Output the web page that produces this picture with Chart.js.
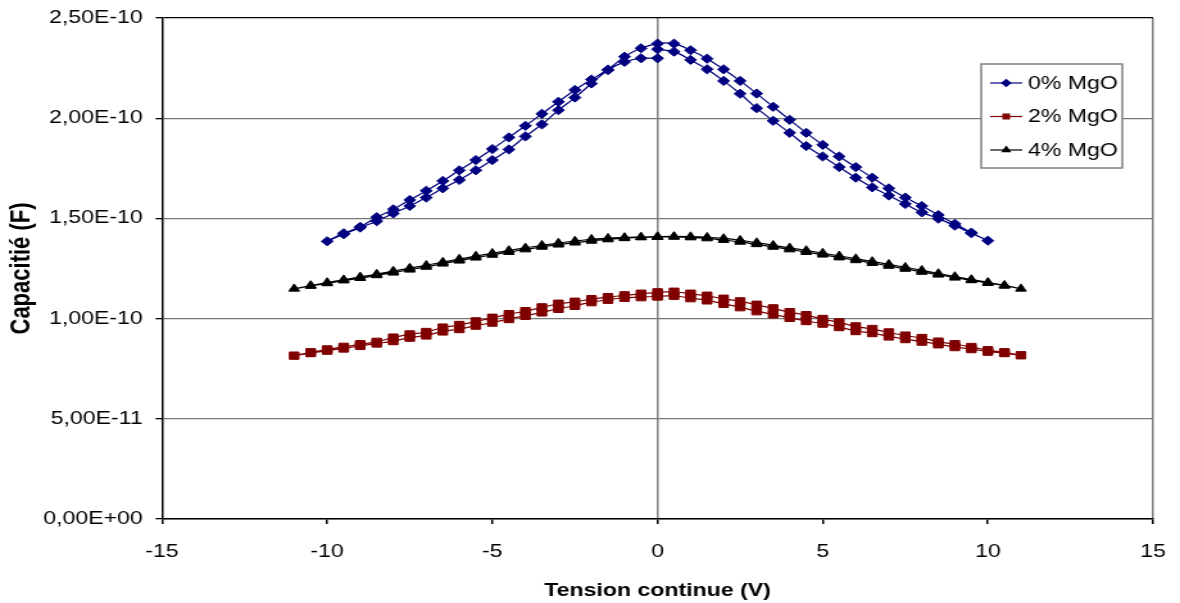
<!DOCTYPE html>
<html>
<head>
<meta charset="utf-8">
<title>Capacité en fonction de la tension</title>
<script src="https://cdn.jsdelivr.net/npm/chart.js@4.4.0/dist/chart.umd.min.js"></script>
<style>
  html, body { margin: 0; padding: 0; background: #fff; overflow: hidden; }
</style>
</head>
<body>
<!-- bitmap is drawn at 920 wide and shown at 1180 wide, like the original sheet export -->
<canvas id="cv" width="920" height="603" style="display:block;width:1180px;height:603px"></canvas>
<script>
// DC bias sweep: 0 -> +Vmax -> -Vmax -> 0 (volts)
const sweep10 = [
    0, 0.5, 1, 1.5, 2, 2.5, 3, 3.5, 4, 4.5, 5, 5.5, 6, 6.5, 7, 7.5, 8, 8.5, 9, 9.5, 10,
    9.5, 9, 8.5, 8, 7.5, 7, 6.5, 6, 5.5, 5, 4.5, 4, 3.5, 3, 2.5, 2, 1.5, 1, 0.5, 0,
    -0.5, -1, -1.5, -2, -2.5, -3, -3.5, -4, -4.5, -5, -5.5, -6, -6.5, -7, -7.5, -8, -8.5, -9, -9.5, -10,
    -9.5, -9, -8.5, -8, -7.5, -7, -6.5, -6, -5.5, -5, -4.5, -4, -3.5, -3, -2.5, -2, -1.5, -1, -0.5, 0
];
const sweep11 = [
    0, 0.5, 1, 1.5, 2, 2.5, 3, 3.5, 4, 4.5, 5, 5.5, 6, 6.5, 7, 7.5, 8, 8.5, 9, 9.5, 10, 10.5, 11,
    10.5, 10, 9.5, 9, 8.5, 8, 7.5, 7, 6.5, 6, 5.5, 5, 4.5, 4, 3.5, 3, 2.5, 2, 1.5, 1, 0.5, 0,
    -0.5, -1, -1.5, -2, -2.5, -3, -3.5, -4, -4.5, -5, -5.5, -6, -6.5, -7, -7.5, -8, -8.5, -9, -9.5, -10, -10.5, -11,
    -10.5, -10, -9.5, -9, -8.5, -8, -7.5, -7, -6.5, -6, -5.5, -5, -4.5, -4, -3.5, -3, -2.5, -2, -1.5, -1, -0.5, 0
];

// measured capacitance in pF, same order as the sweep
const cap0pF = [
    234.4, 233.2, 229.1, 224.4, 218.6, 212.2, 205.0, 198.7, 192.7, 186.1, 180.9, 175.6, 170.3, 165.5, 161.4, 157.2, 153.0, 149.9, 146.4, 142.6, 138.9,
    142.9, 147.3, 151.7, 156.2, 160.4, 165.0, 170.3, 175.6, 180.9, 186.7, 192.7, 199.2, 205.7, 212.3, 218.6, 224.4, 229.7, 233.9, 237.2, 237.2,
    234.9, 230.7, 224.3, 219.3, 214.1, 208.2, 202.2, 196.2, 190.4, 184.6, 179.1, 174.0, 168.7, 163.8, 159.2, 154.5, 150.6, 145.8, 142.6, 138.6,
    142.1, 145.4, 148.6, 152.5, 156.2, 160.4, 165.0, 169.2, 174.0, 179.1, 184.4, 190.9, 196.9, 204.0, 210.3, 217.3, 224.0, 228.1, 229.9, 229.9
];
const cap2pF = [
    111.1, 111.4, 110.2, 109.1, 107.4, 105.7, 103.7, 102.1, 100.4, 98.8, 97.5, 95.8, 93.8, 92.8, 91.1, 89.8, 88.5, 87.2, 85.8, 84.8, 83.5, 82.8, 81.7,
    83.2, 84.2, 85.8, 87.2, 88.5, 90.3, 91.5, 93.1, 94.8, 96.1, 98.1, 99.8, 101.7, 103.2, 105.1, 106.9, 108.6, 109.9, 111.4, 112.4, 113.4, 113.1,
    112.4, 111.6, 110.7, 109.7, 108.4, 107.4, 105.6, 103.7, 102.2, 100.4, 98.6, 96.8, 95.5, 93.3, 92.1, 90.5, 88.4, 87.2, 85.9, 84.6, 83.2, 81.5,
    82.8, 84.0, 85.1, 86.4, 87.6, 88.8, 90.5, 91.6, 93.6, 94.8, 96.5, 98.0, 99.8, 101.4, 103.1, 104.9, 106.4, 108.2, 109.4, 110.4, 110.7, 111.1
];
const cap4pF = [
    140.7, 140.8, 140.5, 140.0, 139.2, 138.3, 137.1, 135.8, 134.5, 133.2, 131.9, 130.5, 129.1, 127.7, 126.3, 124.8, 123.3, 121.9, 120.4, 119.1, 117.7, 116.4, 114.9,
    116.6, 118.1, 119.5, 121.0, 122.5, 124.1, 125.6, 127.1, 128.5, 129.9, 131.3, 132.7, 134.0, 135.3, 136.6, 137.9, 139.1, 140.0, 140.6, 140.9, 141.0, 140.9,
    140.7, 140.5, 140.1, 139.6, 138.7, 137.7, 136.6, 135.3, 134.0, 132.6, 131.2, 129.7, 128.2, 126.6, 125.2, 123.7, 122.2, 120.8, 119.4, 118.0, 116.5, 114.9,
    116.3, 117.6, 119.0, 120.2, 121.6, 122.9, 124.4, 125.8, 127.4, 128.9, 130.4, 131.8, 133.2, 134.5, 135.8, 136.9, 137.9, 138.8, 139.5, 140.1, 140.5, 140.7
];

const seriesLabels = ['0% MgO', '2% MgO', '4% MgO'];
const yTickLabels = ['0,00E+00', '5,00E-11', '1,00E-10', '1,50E-10', '2,00E-10', '2,50E-10'];

const toPoints = (volts, pF) => volts.map((v, i) => ({ x: v, y: pF[i] * 1e-12 }));

Chart.defaults.font.family = '"Liberation Sans", Arial, sans-serif';
Chart.defaults.color = '#000';

// legend box sitting inside the plot, top right
const insideLegend = {
    id: 'insideLegend',
    afterDraw(chart) {
        const { ctx, chartArea } = chart;
        const w = 110, h = 104;
        const x0 = chartArea.right - 24 - w;
        const y0 = chartArea.top + 46;
        ctx.save();
        ctx.fillStyle = '#fff';
        ctx.fillRect(x0, y0, w, h);
        ctx.strokeStyle = '#808080';
        ctx.lineWidth = 1.5;
        ctx.strokeRect(x0, y0, w, h);
        ctx.font = '18px "Liberation Sans", Arial, sans-serif';
        ctx.textBaseline = 'middle';
        chart.data.datasets.forEach((ds, i) => {
            const y = y0 + 19 + i * 33.5;
            ctx.strokeStyle = ds.borderColor;
            ctx.lineWidth = 1.2;
            ctx.beginPath();
            ctx.moveTo(x0 + 7, y);
            ctx.lineTo(x0 + 32, y);
            ctx.stroke();
            ctx.fillStyle = ds.pointBackgroundColor;
            Chart.helpers.drawPoint(ctx, {
                pointStyle: ds.pointStyle, radius: 3.4, borderWidth: 1, rotation: 0
            }, x0 + 19.5, y);
            ctx.fillStyle = '#000';
            ctx.fillText(ds.label, x0 + 36.5, y + 1);
        });
        ctx.restore();
    }
};

const line = (label, data, color, style, radius) => ({
    label,
    data,
    showLine: true,
    borderColor: color,
    backgroundColor: color,
    pointBackgroundColor: color,
    pointBorderColor: color,
    pointStyle: style,
    pointRadius: radius,
    pointBorderWidth: 1,
    borderWidth: 1.2,
    tension: 0.3,
    fill: false,
});

new Chart(document.getElementById('cv'), {
    type: 'scatter',
    data: {
        datasets: [
            line(seriesLabels[0], toPoints(sweep10, cap0pF), '#000080', 'rectRot', 4.6),
            line(seriesLabels[1], toPoints(sweep11, cap2pF), '#800000', 'rect', 5.2),
            line(seriesLabels[2], toPoints(sweep11, cap4pF), '#000000', 'triangle', 4.8),
        ],
    },
    options: {
        responsive: false,
        animation: false,
        events: [],
        layout: { padding: { left: 0, top: 18, right: 21, bottom: 0 } },
        plugins: {
            legend: { display: false },
            tooltip: { enabled: false },
        },
        scales: {
            x: {
                type: 'linear',
                min: -15,
                max: 15,
                ticks: { stepSize: 5, font: { size: 18 }, padding: 17 },
                grid: {
                    // only the zero line and the right frame are drawn
                    color: (c) => (c.tick && (c.tick.value === 0 || c.tick.value === 15)) ? '#808080' : 'rgba(0,0,0,0)',
                    lineWidth: 1.5,
                    tickColor: '#000',
                    tickLength: 5,
                },
                border: { color: '#000', width: 1.5 },
                title: {
                    display: true,
                    text: 'Tension continue (V)',
                    font: { size: 18, weight: 'bold' },
                    padding: { top: 4, bottom: 1 },
                },
                afterFit: (s) => { s.height = 84; s.paddingLeft = 0; s.paddingRight = 0; },
            },
            y: {
                min: 0,
                max: 2.5e-10,
                ticks: {
                    stepSize: 5e-11,
                    font: { size: 18 },
                    padding: 10,
                    callback: (v, i) => yTickLabels[i],
                },
                grid: {
                    color: (c) => (c.tick && c.tick.value >= 2.5e-10) ? '#000' : '#777',
                    lineWidth: 1.3,
                    tickColor: '#000',
                    tickLength: 5,
                },
                border: { color: '#000', width: 1.5 },
                title: {
                    display: true,
                    text: 'Capacitié (F)',
                    font: { size: 22, weight: 'bold' },
                    padding: { top: 4, bottom: 4 },
                },
                afterFit: (s) => { s.width = 126.3; s.paddingTop = 0; s.paddingBottom = 0; },
            },
        },
    },
    plugins: [insideLegend],
});
</script>
</body>
</html>
